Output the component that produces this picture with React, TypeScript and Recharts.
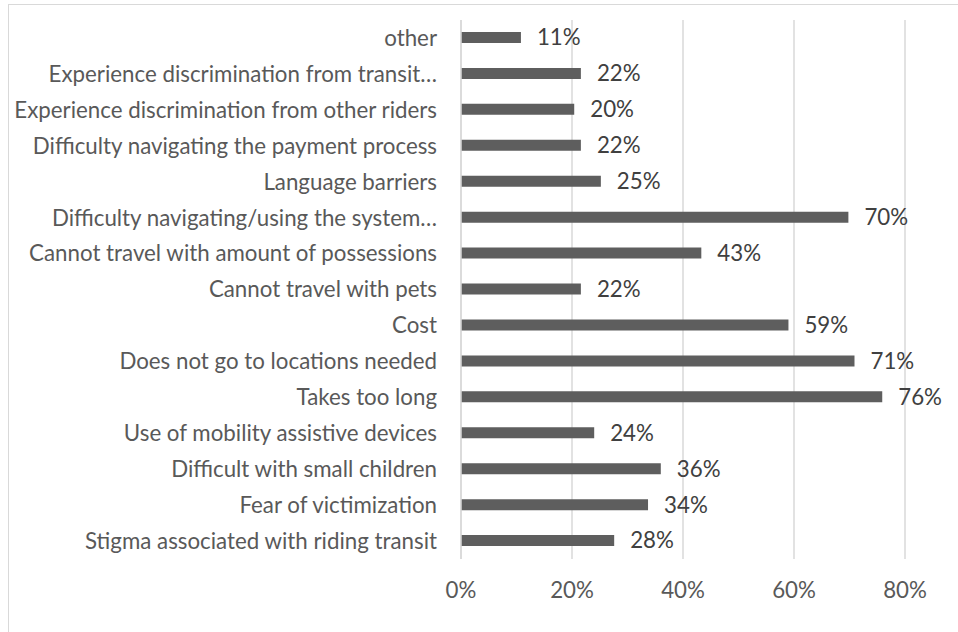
import React from 'react';
import { BarChart, Bar, XAxis, YAxis, CartesianGrid, LabelList } from 'recharts';

// top to bottom, as in the source chart
const categories = [
  'other',
  'Experience discrimination from transit…',
  'Experience discrimination from other riders',
  'Difficulty navigating the payment process',
  'Language barriers',
  'Difficulty navigating/using the system…',
  'Cannot travel with amount of possessions',
  'Cannot travel with pets',
  'Cost',
  'Does not go to locations needed',
  'Takes too long',
  'Use of mobility assistive devices',
  'Difficult with small children',
  'Fear of victimization',
  'Stigma associated with riding transit',
];

const shares = [
  0.108, 0.216, 0.204, 0.216, 0.252, 0.698, 0.433, 0.216,
  0.59, 0.709, 0.759, 0.24, 0.36, 0.337, 0.276,
];

const xTicks = [0, 0.2, 0.4, 0.6, 0.8];

const data = categories.map((name, i) => ({ name, value: shares[i] }));

const FONT = 'Lato, "Open Sans", sans-serif';
const SIZE = 22.3;
const pct = (v: any) => `${Math.round(Number(v) * 100)}%`;

export default function App() {
  return (
    <div style={{ position: 'absolute', left: 8, top: 4, width: 950, height: 628, overflow: 'hidden' }}>
      <div style={{ position: 'absolute', left: 0, top: 0, width: 980, height: 660, border: '1px solid #d9d9d9', boxSizing: 'border-box' }} />
      <div style={{ position: 'absolute', left: 0, top: 0 }}>
        <BarChart
          width={950}
          height={628}
          data={data}
          layout="vertical"
          barSize={11}
          margin={{ top: 16, right: 53, left: 0, bottom: 33 }}
          style={{ fontFamily: FONT }}
        >
          <CartesianGrid horizontal={false} stroke="#d9d9d9" strokeWidth={1.5} />
          <XAxis
            type="number"
            domain={[0, 0.8]}
            ticks={xTicks}
            tickFormatter={pct}
            axisLine={false}
            tickLine={false}
            tickSize={0}
            tickMargin={23}
            height={40}
            tick={{ fill: '#595959', fontSize: SIZE, fontFamily: FONT }}
          />
          <YAxis
            type="category"
            dataKey="name"
            width={453}
            axisLine={{ stroke: '#d9d9d9', strokeWidth: 1.5 }}
            tickLine={false}
            tickSize={0}
            tickMargin={24}
            interval={0}
            tick={{ fill: '#595959', fontSize: SIZE, fontFamily: FONT }}
          />
          <Bar dataKey="value" fill="#5e5e5e" isAnimationActive={false}>
            <LabelList
              dataKey="value"
              position="right"
              offset={16}
              formatter={pct}
              fill="#404040"
              fontSize={SIZE}
              fontFamily={FONT}
            />
          </Bar>
        </BarChart>
      </div>
    </div>
  );
}
